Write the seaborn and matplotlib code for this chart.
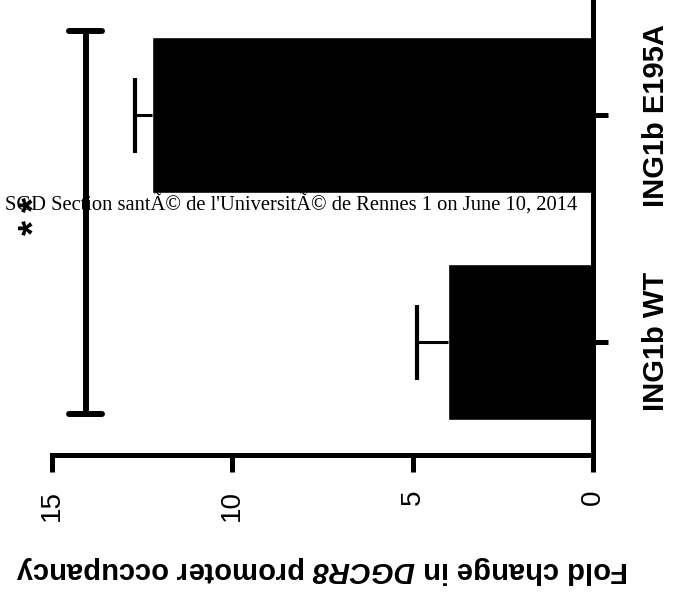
"""
plot.py - ChIP fold change of DGCR8 promoter occupancy (rotated bar chart).
"""

import matplotlib
matplotlib.use("Agg")
import matplotlib.pyplot as plt
import numpy as np
import pandas as pd
import seaborn as sns


# ── Data ─────────────────────────────────────────────────────────────────────
GROUPS     = ["ING1b E195A", "ING1b WT"]
FOLD_MEAN  = [12.23, 4.02]
FOLD_SEM   = [0.46, 0.86]
X_TICKS    = [0, 5, 10, 15]
SIG_LABEL  = "**"
SIG_X      = 14.06
X_LABEL    = r"Fold change in $\mathbfit{DGCR8}$ promoter occupancy"
WATERMARK  = "SGD Section santÃ© de l'UniversitÃ© de Rennes 1 on June 10, 2014"


# ── Style ────────────────────────────────────────────────────────────────────
sns.set_style("ticks", {"axes.edgecolor": "black", "xtick.color": "black",
                        "ytick.color": "black", "text.color": "black",
                        "axes.labelcolor": "black"})
plt.rcParams["font.family"] = ["Liberation Sans", "DejaVu Sans"]
plt.rcParams["mathtext.fontset"] = "custom"
plt.rcParams["mathtext.bfit"] = "Liberation Sans:italic:bold"
plt.rcParams["mathtext.bf"] = "Liberation Sans:bold"
plt.rcParams["mathtext.it"] = "Liberation Sans:italic"
plt.rcParams["mathtext.rm"] = "Liberation Sans"

LW = 3.6  # ~5 px spine

df = pd.DataFrame({"group": GROUPS, "fold": FOLD_MEAN})

fig = plt.figure(figsize=(6.76, 6.06), dpi=100)
ax = fig.add_axes([52 / 676, 1 - 455 / 606, (593 - 52) / 676, (455 - 2) / 606])

sns.barplot(data=df, x="fold", y="group", order=GROUPS, color="black",
            width=0.69, errorbar=None, orient="h", ax=ax, saturation=1)

ypos = ax.get_yticks()

# one-sided error bars (outward only, cap on the outer end)
_, caps, _ = ax.errorbar(FOLD_MEAN, ypos, xerr=[[0] * len(FOLD_SEM), FOLD_SEM],
                         fmt="none", ecolor="black", elinewidth=2.2,
                         capsize=27, capthick=3.0, zorder=3)
for cap in caps:
    if np.allclose(cap.get_xdata(), FOLD_MEAN):
        cap.set_visible(False)

# significance bracket
y_top, y_bot = ypos[0] - 0.37, ypos[-1] + 0.32
ax.plot([SIG_X, SIG_X], [y_top, y_bot], color="black", lw=4.3,
        solid_capstyle="butt", zorder=4, clip_on=False)
for yy in (y_top, y_bot):
    ax.plot([SIG_X - 0.46, SIG_X + 0.46], [yy, yy], color="black", lw=4.3,
            solid_capstyle="round", zorder=4, clip_on=False)
y_mid = (y_top + y_bot) / 2 - 0.03
for k, star in enumerate(SIG_LABEL):
    ax.text(15.45, y_mid + (k - 0.5) * 0.1, star, rotation=90, ha="center",
            va="center", fontsize=28, fontweight="bold", clip_on=False,
            zorder=5)

# axes
ax.set_xlim(15, 0)
ax.set_ylim(len(GROUPS) - 0.5, -0.5)
ax.set_xticks(X_TICKS)
ax.set_xticklabels([str(t) for t in X_TICKS], rotation=90, fontsize=20)

ax.yaxis.tick_right()
ax.set_yticks(ypos)
ax.set_yticklabels(GROUPS, rotation=90, fontsize=21, fontweight="bold",
                   va="center")
ax.set_ylabel("")
ax.set_xlabel(X_LABEL, rotation=180, fontsize=21, fontweight="bold",
              labelpad=24)

for side in ("left", "top"):
    ax.spines[side].set_visible(False)
for side in ("right", "bottom"):
    ax.spines[side].set_linewidth(LW)
    ax.spines[side].set_color("black")
ax.tick_params(axis="x", length=12, width=LW, pad=13, direction="out",
               color="black")
ax.tick_params(axis="y", length=11, width=LW, pad=24, direction="out",
               right=True, left=False, labelright=True, labelleft=False,
               color="black")

# download stamp
fig.text(5 / 676, 1 - 205 / 606, WATERMARK, family=["Liberation Serif"],
         fontsize=14.8, ha="left", va="center", zorder=2)

plt.savefig("out.png", dpi=100)
plt.close()
